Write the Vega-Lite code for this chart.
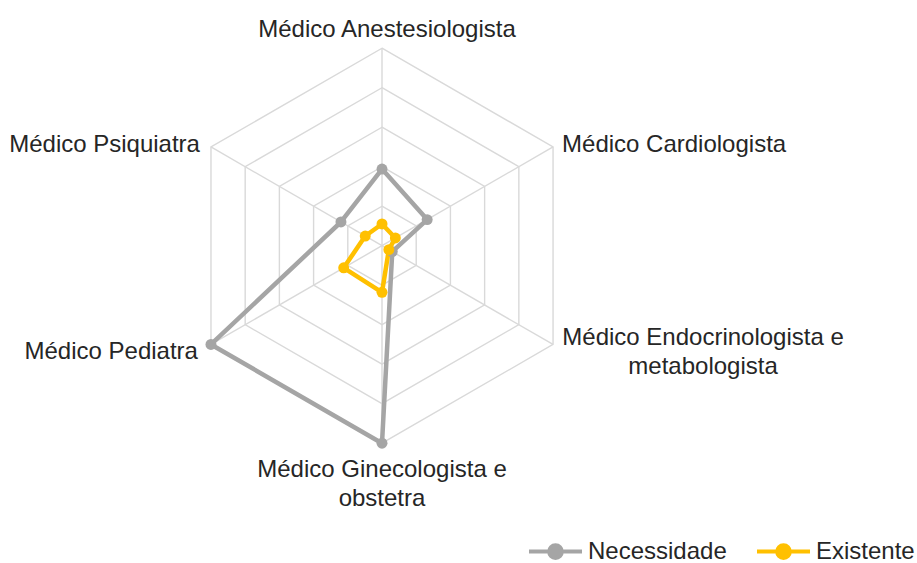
{
  "$schema": "https://vega.github.io/schema/vega-lite/v6.json",
  "width": 917,
  "height": 563,
  "autosize": "none",
  "padding": 0,
  "background": "white",
  "config": {
    "view": {"stroke": null},
    "font": "Arial",
    "text": {"font": "Arial"},
    "legend": {"labelFont": "Arial"}
  },
  "datasets": {
    "eixos": [
      {"ordem": 0, "especialidade": "Médico Anestesiologista", "rotulo": "Médico Anestesiologista", "niveis": [1, 2, 3, 4, 5]},
      {"ordem": 1, "especialidade": "Médico Cardiologista", "rotulo": "Médico Cardiologista", "niveis": [1, 2, 3, 4, 5]},
      {"ordem": 2, "especialidade": "Médico Endocrinologista e metabologista", "rotulo": "Médico Endocrinologista e\nmetabologista", "niveis": [1, 2, 3, 4, 5]},
      {"ordem": 3, "especialidade": "Médico Ginecologista e obstetra", "rotulo": "Médico Ginecologista e\nobstetra", "niveis": [1, 2, 3, 4, 5]},
      {"ordem": 4, "especialidade": "Médico Pediatra", "rotulo": "Médico Pediatra", "niveis": [1, 2, 3, 4, 5]},
      {"ordem": 5, "especialidade": "Médico Psiquiatra", "rotulo": "Médico Psiquiatra", "niveis": [1, 2, 3, 4, 5]}
    ],
    "valores": [
      {"serie": "Necessidade", "especialidade": "Médico Anestesiologista", "valor": 1.94},
      {"serie": "Necessidade", "especialidade": "Médico Cardiologista", "valor": 1.32},
      {"serie": "Necessidade", "especialidade": "Médico Endocrinologista e metabologista", "valor": 0.3},
      {"serie": "Necessidade", "especialidade": "Médico Ginecologista e obstetra", "valor": 5},
      {"serie": "Necessidade", "especialidade": "Médico Pediatra", "valor": 5},
      {"serie": "Necessidade", "especialidade": "Médico Psiquiatra", "valor": 1.2},
      {"serie": "Existente", "especialidade": "Médico Anestesiologista", "valor": 0.55},
      {"serie": "Existente", "especialidade": "Médico Cardiologista", "valor": 0.39},
      {"serie": "Existente", "especialidade": "Médico Endocrinologista e metabologista", "valor": 0.2},
      {"serie": "Existente", "especialidade": "Médico Ginecologista e obstetra", "valor": 1.18},
      {"serie": "Existente", "especialidade": "Médico Pediatra", "valor": 1.12},
      {"serie": "Existente", "especialidade": "Médico Psiquiatra", "valor": 0.49}
    ]
  },
  "encoding": {
    "x": {"field": "px", "type": "quantitative", "scale": {"domain": [-9.671, 13.544], "nice": false, "zero": false}, "axis": null},
    "y": {"field": "py", "type": "quantitative", "scale": {"domain": [-8.033, 6.22], "nice": false, "zero": false}, "axis": null}
  },
  "layer": [
    {
      "data": {"name": "eixos"},
      "transform": [
        {"flatten": ["niveis"], "as": ["nivel"]},
        {"calculate": "datum.nivel * sin(datum.ordem * PI / 3)", "as": "px"},
        {"calculate": "datum.nivel * cos(datum.ordem * PI / 3)", "as": "py"}
      ],
      "mark": {"type": "line", "interpolate": "linear-closed", "color": "#d9d9d9", "strokeWidth": 1.4},
      "encoding": {
        "detail": {"field": "nivel", "type": "nominal"},
        "order": {"field": "ordem", "type": "quantitative"}
      }
    },
    {
      "data": {"name": "eixos"},
      "transform": [
        {"calculate": "5 * sin(datum.ordem * PI / 3)", "as": "px"},
        {"calculate": "5 * cos(datum.ordem * PI / 3)", "as": "py"}
      ],
      "mark": {"type": "rule", "color": "#d9d9d9", "strokeWidth": 1.4},
      "encoding": {
        "x2": {"datum": 0},
        "y2": {"datum": 0}
      }
    },
    {
      "data": {"name": "valores"},
      "transform": [
        {"lookup": "especialidade", "from": {"data": {"name": "eixos"}, "key": "especialidade", "fields": ["ordem"]}},
        {"calculate": "datum.valor * sin(datum.ordem * PI / 3)", "as": "px"},
        {"calculate": "datum.valor * cos(datum.ordem * PI / 3)", "as": "py"}
      ],
      "mark": {"type": "line", "interpolate": "linear-closed", "strokeWidth": 4.5, "strokeJoin": "round"},
      "encoding": {
        "color": {
          "field": "serie", "type": "nominal",
          "scale": {"domain": ["Necessidade", "Existente"], "range": ["#a5a5a5", "#ffc000"]},
          "legend": {
            "title": null,
            "orient": "none",
            "direction": "horizontal",
            "legendX": 527,
            "legendY": 523,
            "symbolType": "M-1,0L1,0M0.24,0A0.24,0.24,0,1,1,-0.24,0A0.24,0.24,0,1,1,0.24,0Z",
            "symbolSize": 2809,
            "symbolStrokeWidth": 4,
            "labelFontSize": 24,
            "labelColor": "#262626",
            "labelOffset": 4,
            "columnPadding": 22
          }
        },
        "detail": {"field": "serie", "type": "nominal"},
        "order": {"field": "ordem", "type": "quantitative"}
      }
    },
    {
      "data": {"name": "valores"},
      "transform": [
        {"lookup": "especialidade", "from": {"data": {"name": "eixos"}, "key": "especialidade", "fields": ["ordem"]}},
        {"calculate": "datum.valor * sin(datum.ordem * PI / 3)", "as": "px"},
        {"calculate": "datum.valor * cos(datum.ordem * PI / 3)", "as": "py"}
      ],
      "mark": {"type": "point", "filled": true, "size": 120, "opacity": 1},
      "encoding": {
        "color": {"field": "serie", "type": "nominal"}
      }
    },
    {
      "data": {"name": "eixos"},
      "transform": [
        {"filter": "datum.ordem == 0"},
        {"calculate": "5 * sin(datum.ordem * PI / 3)", "as": "px"},
        {"calculate": "5 * cos(datum.ordem * PI / 3)", "as": "py"}
      ],
      "mark": {"type": "text", "align": "center", "baseline": "alphabetic", "dx": 5, "dy": -11, "fontSize": 24, "color": "#262626", "lineBreak": "\n", "lineHeight": 28.5},
      "encoding": {"text": {"field": "rotulo", "type": "nominal"}}
    },
    {
      "data": {"name": "eixos"},
      "transform": [
        {"filter": "datum.ordem == 1"},
        {"calculate": "5 * sin(datum.ordem * PI / 3)", "as": "px"},
        {"calculate": "5 * cos(datum.ordem * PI / 3)", "as": "py"}
      ],
      "mark": {"type": "text", "align": "left", "baseline": "alphabetic", "dx": 9, "dy": 5, "fontSize": 24, "color": "#262626", "lineBreak": "\n", "lineHeight": 28.5},
      "encoding": {"text": {"field": "rotulo", "type": "nominal"}}
    },
    {
      "data": {"name": "eixos"},
      "transform": [
        {"filter": "datum.ordem == 2"},
        {"calculate": "5 * sin(datum.ordem * PI / 3)", "as": "px"},
        {"calculate": "5 * cos(datum.ordem * PI / 3)", "as": "py"}
      ],
      "mark": {"type": "text", "align": "center", "baseline": "alphabetic", "dx": 150, "dy": 1, "fontSize": 24, "color": "#262626", "lineBreak": "\n", "lineHeight": 28.5},
      "encoding": {"text": {"field": "rotulo", "type": "nominal"}}
    },
    {
      "data": {"name": "eixos"},
      "transform": [
        {"filter": "datum.ordem == 3"},
        {"calculate": "5 * sin(datum.ordem * PI / 3)", "as": "px"},
        {"calculate": "5 * cos(datum.ordem * PI / 3)", "as": "py"}
      ],
      "mark": {"type": "text", "align": "center", "baseline": "alphabetic", "dx": 0, "dy": 34, "fontSize": 24, "color": "#262626", "lineBreak": "\n", "lineHeight": 28.5},
      "encoding": {"text": {"field": "rotulo", "type": "nominal"}}
    },
    {
      "data": {"name": "eixos"},
      "transform": [
        {"filter": "datum.ordem == 4"},
        {"calculate": "5 * sin(datum.ordem * PI / 3)", "as": "px"},
        {"calculate": "5 * cos(datum.ordem * PI / 3)", "as": "py"}
      ],
      "mark": {"type": "text", "align": "right", "baseline": "alphabetic", "dx": -13, "dy": 15, "fontSize": 24, "color": "#262626", "lineBreak": "\n", "lineHeight": 28.5},
      "encoding": {"text": {"field": "rotulo", "type": "nominal"}}
    },
    {
      "data": {"name": "eixos"},
      "transform": [
        {"filter": "datum.ordem == 5"},
        {"calculate": "5 * sin(datum.ordem * PI / 3)", "as": "px"},
        {"calculate": "5 * cos(datum.ordem * PI / 3)", "as": "py"}
      ],
      "mark": {"type": "text", "align": "right", "baseline": "alphabetic", "dx": -11, "dy": 5, "fontSize": 24, "color": "#262626", "lineBreak": "\n", "lineHeight": 28.5},
      "encoding": {"text": {"field": "rotulo", "type": "nominal"}}
    }
  ]
}
